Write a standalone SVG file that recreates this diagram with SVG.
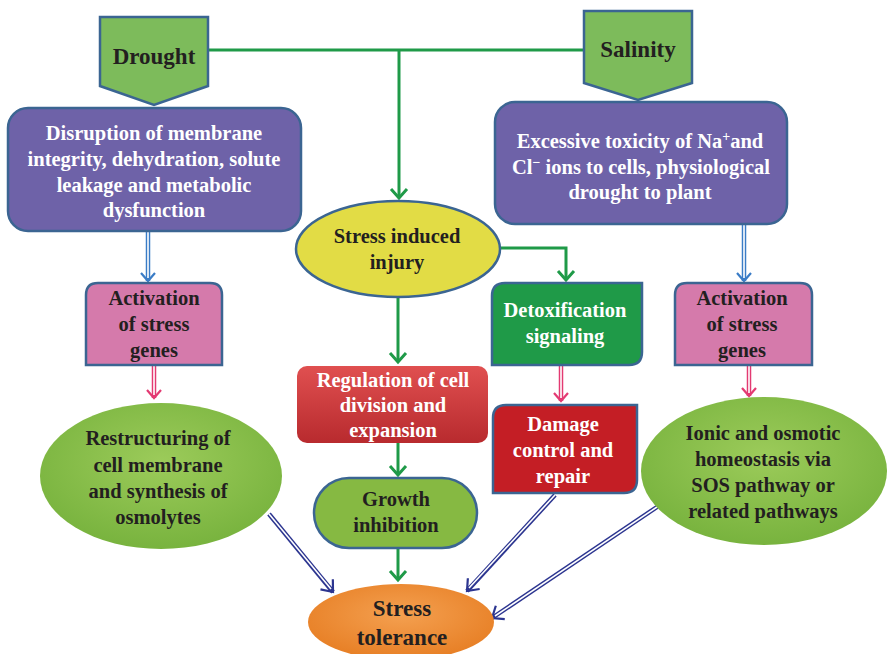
<svg xmlns="http://www.w3.org/2000/svg" width="887" height="654" viewBox="0 0 887 654">
<style>
.t{font-family:'Liberation Serif','DejaVu Serif',serif;font-weight:bold;font-size:20.5px;text-anchor:middle}
.big{font-size:23px}
.w{fill:#ffffff}
.d{fill:#231f20}
.bs{stroke:#3b6592;stroke-width:2.5}
.g{fill:none;stroke:#1f9a48;stroke-width:3}
.dbo{fill:none;stroke-width:4.5}
.dbi{fill:none;stroke:#ffffff;stroke-width:1.6}
</style>
<defs>
<marker id="aG" markerUnits="userSpaceOnUse" markerWidth="20" markerHeight="20" refX="15" refY="10" orient="auto"><path d="M6,2 L15,10 L6,18" fill="none" stroke="#1f9a48" stroke-width="3"/></marker>
<marker id="aB" markerUnits="userSpaceOnUse" markerWidth="20" markerHeight="20" refX="15" refY="10" orient="auto"><path d="M7,3 L15,10 L7,17" fill="none" stroke="#3a7cc6" stroke-width="2.2"/></marker>
<marker id="aP" markerUnits="userSpaceOnUse" markerWidth="20" markerHeight="20" refX="15" refY="10" orient="auto"><path d="M7,3 L15,10 L7,17" fill="none" stroke="#e33a72" stroke-width="2.2"/></marker>
<marker id="aN" markerUnits="userSpaceOnUse" markerWidth="22" markerHeight="22" refX="17" refY="11" orient="auto"><path d="M7,3 L17,11 L7,19" fill="none" stroke="#2c3590" stroke-width="2.2"/></marker>
<radialGradient id="gGreen" cx="50%" cy="40%" r="60%"><stop offset="0" stop-color="#9ccb5a"/><stop offset="1" stop-color="#78b33e"/></radialGradient>
<linearGradient id="gRed" x1="0" y1="0" x2="0" y2="1"><stop offset="0" stop-color="#e05050"/><stop offset="1" stop-color="#b82a2e"/></linearGradient>
<radialGradient id="gOrange" cx="50%" cy="40%" r="60%"><stop offset="0" stop-color="#f4a050"/><stop offset="1" stop-color="#e77f25"/></radialGradient>
</defs>

<g id="connectors">
<path class="g" d="M208,50 H584"/>
<path class="g" d="M399,50 V198" marker-end="url(#aG)"/>
<path class="g" d="M500,248 H566 V280" marker-end="url(#aG)"/>
<path class="g" d="M398,298 V362" marker-end="url(#aG)"/>
<path class="g" d="M398,443 V475" marker-end="url(#aG)"/>
<path class="g" d="M398,548 V580" marker-end="url(#aG)"/>
<path class="dbo" stroke="#3a7cc6" d="M148,232 V281" marker-end="url(#aB)"/>
<path class="dbi" d="M148,232 V278"/>
<path class="dbo" stroke="#3a7cc6" d="M744,224 V281" marker-end="url(#aB)"/>
<path class="dbi" d="M744,224 V278"/>
<path class="dbo" stroke="#e33a72" d="M154,366 V398" marker-end="url(#aP)"/>
<path class="dbi" d="M154,366 V395"/>
<path class="dbo" stroke="#e33a72" d="M561,366 V401" marker-end="url(#aP)"/>
<path class="dbi" d="M561,366 V398"/>
<path class="dbo" stroke="#e33a72" d="M749,366 V396" marker-end="url(#aP)"/>
<path class="dbi" d="M749,366 V393"/>
<path class="dbo" stroke="#2c3590" d="M269,514 L333,592" marker-end="url(#aN)"/>
<path class="dbi" d="M269,514 L331,589"/>
<path class="dbo" stroke="#2c3590" d="M555,495 L467,591" marker-end="url(#aN)"/>
<path class="dbi" d="M555,495 L469,588"/>
<path class="dbo" stroke="#2c3590" d="M657,507 L492,618" marker-end="url(#aN)"/>
<path class="dbi" d="M657,507 L495,616"/>
</g>

<g id="drought">
<path d="M100,17 H208 V86 L154,105 L100,86 Z" fill="#7dbb5b" class="bs"/>
<text class="t d big" x="154" y="64">Drought</text>
</g>
<g id="salinity">
<path d="M584,11 H692 V83 L638,100 L584,83 Z" fill="#7dbb5b" class="bs"/>
<text class="t d big" x="638" y="57">Salinity</text>
</g>

<g id="disruption">
<rect x="8" y="108" width="293" height="123" rx="20" fill="#6e62a8" class="bs"/>
<text class="t w" x="154" y="140">Disruption of membrane</text>
<text class="t w" x="154" y="166">integrity, dehydration, solute</text>
<text class="t w" x="154" y="192">leakage and metabolic</text>
<text class="t w" x="154" y="217">dysfunction</text>
</g>

<g id="excessive">
<rect x="495" y="102" width="292" height="122" rx="20" fill="#6e62a8" class="bs"/>
<text class="t w" x="640" y="148">Excessive toxicity of Na<tspan font-size="14" dy="-7">+</tspan><tspan dy="7">and</tspan></text>
<text class="t w" x="641" y="174">Cl<tspan font-size="14" dy="-7">−</tspan><tspan dy="7"> ions to cells, physiological</tspan></text>
<text class="t w" x="640" y="199">drought to plant</text>
</g>

<g id="injury">
<ellipse cx="398" cy="249" rx="102" ry="48" fill="#e2dc45" class="bs"/>
<text class="t d" x="397" y="243">Stress induced</text>
<text class="t d" x="397" y="269">injury</text>
</g>

<g id="activation-left">
<path d="M98,283 H210 Q222,283 222,295 V365 H86 V295 Q86,283 98,283 Z" fill="#d57aab" class="bs"/>
<text class="t d" x="154" y="305">Activation</text>
<text class="t d" x="154" y="331">of stress</text>
<text class="t d" x="154" y="357">genes</text>
</g>

<g id="activation-right">
<path d="M687,283 H800 Q812,283 812,295 V365 H675 V295 Q675,283 687,283 Z" fill="#d57aab" class="bs"/>
<text class="t d" x="742" y="305">Activation</text>
<text class="t d" x="742" y="331">of stress</text>
<text class="t d" x="742" y="357">genes</text>
</g>

<g id="detox">
<path d="M505,283 H642 V352 Q642,365 629,365 H492 V296 Q492,283 505,283 Z" fill="#1f9a48" class="bs"/>
<text class="t w" x="565" y="317">Detoxification</text>
<text class="t w" x="565" y="343">signaling</text>
</g>

<g id="regulation">
<rect x="297" y="366" width="191" height="77" rx="10" fill="url(#gRed)"/>
<text class="t w" x="393" y="387">Regulation of cell</text>
<text class="t w" x="393" y="412">division and</text>
<text class="t w" x="393" y="437">expansion</text>
</g>

<g id="damage">
<path d="M506,405 H637 V480 Q637,493 624,493 H493 V418 Q493,405 506,405 Z" fill="#c41e25" class="bs"/>
<text class="t w" x="563" y="431">Damage</text>
<text class="t w" x="563" y="457">control and</text>
<text class="t w" x="563" y="483">repair</text>
</g>

<g id="restructuring">
<ellipse cx="161" cy="476" rx="121" ry="73" fill="url(#gGreen)"/>
<text class="t d" x="158" y="445">Restructuring of</text>
<text class="t d" x="158" y="472">cell membrane</text>
<text class="t d" x="158" y="498">and synthesis of</text>
<text class="t d" x="158" y="524">osmolytes</text>
</g>

<g id="ionic">
<ellipse cx="764" cy="471" rx="123" ry="74" fill="url(#gGreen)"/>
<text class="t d" x="763" y="440">Ionic and osmotic</text>
<text class="t d" x="763" y="466">homeostasis via</text>
<text class="t d" x="763" y="492">SOS pathway or</text>
<text class="t d" x="763" y="518">related pathways</text>
</g>

<g id="growth">
<rect x="314" y="478" width="163" height="70" rx="35" fill="#86b942" class="bs"/>
<text class="t d" x="396" y="506">Growth</text>
<text class="t d" x="396" y="532">inhibition</text>
</g>

<g id="tolerance">
<ellipse cx="401" cy="622" rx="93" ry="38" fill="url(#gOrange)"/>
<text class="t d big" x="402" y="616">Stress</text>
<text class="t d big" x="402" y="645">tolerance</text>
</g>
</svg>
